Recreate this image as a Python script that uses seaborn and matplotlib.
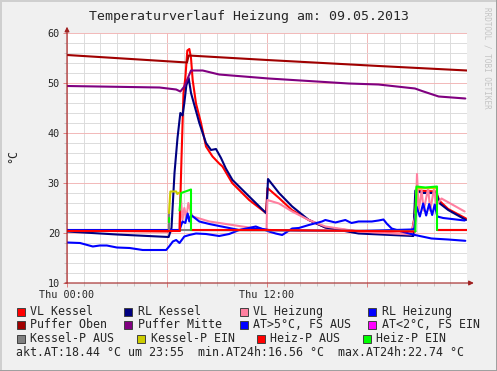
import matplotlib
matplotlib.use('Agg')
import matplotlib.pyplot as plt
from matplotlib.patches import Rectangle
from matplotlib.lines import Line2D
import pandas as pd
import seaborn as sns

# Zeit in Stunden ab Thu 00:00, Werte in °C
vl_kessel_t = [0, 3, 6.1, 6.75, 6.87, 6.99, 7.1, 7.22, 7.34, 7.44, 7.54, 7.74, 8.04, 8.34, 8.73,
               9.13, 9.33, 9.91, 10.93, 11.94, 12.03, 12.72, 13.49, 14.51, 15.5, 17.49, 20.66,
               20.84, 20.96, 22.15, 22.33, 22.87, 23.94]
vl_kessel_v = [20.5, 20.4, 20.3, 20.6, 35, 48, 51, 56.5, 56.8, 55, 50.6, 45.9, 42, 37.3, 35.3,
               33.9, 33.3, 30, 26.6, 24, 29, 27, 24.6, 22.6, 21.1, 20.3, 19.6,
               23, 28.5, 28.3, 26.5, 24.8, 22.9]

rl_kessel_t = [0, 3, 6.1, 6.27, 6.45, 6.63, 6.8, 6.93, 7.04, 7.16, 7.3, 7.44, 7.64, 7.94, 8.34,
               8.64, 8.94, 9.24, 9.53, 9.93, 10.93, 11.97, 12.06, 12.72, 13.51, 14.51, 15.5,
               17.49, 19.46, 20.78, 20.9, 21.37, 22.15, 22.37, 22.87, 23.94]
rl_kessel_v = [20.3, 19.7, 19.2, 21, 32, 39, 44, 43.5, 46, 49.5, 51, 48, 45.6, 42, 38,
               36.6, 36.8, 35, 32.9, 30.6, 27.3, 23.9, 30.8, 28, 25.3, 22.6, 21.1,
               19.9, 19.6, 19.4, 28.5, 28, 28, 25.9, 24.6, 22.6]

vl_heizung_t = [0, 6.75, 6.84, 6.93, 7.04, 7.16, 7.28, 7.44, 7.54, 8.54, 9.53, 10.52, 11.72,
                11.97, 12.02, 12.72, 13.51, 14.51, 15.5, 17.49, 20.66, 20.93, 21.0, 21.1, 21.28,
                21.4, 21.67, 21.79, 22.03, 22.15, 22.47, 23.86]
vl_heizung_v = [20.5, 20.5, 26.6, 22.6, 25, 23, 26, 24, 23.3, 22.3, 21.8, 21.3, 20.7,
                20.6, 26.6, 25.9, 24.3, 22.6, 21.3, 20.3, 19.7, 24, 31.8, 24.5, 28.5,
                24.5, 29, 24.5, 29, 25.5, 26.9, 24.3]

rl_heizung_t = [0, 6.15, 6.75, 6.93, 7.1, 7.24, 7.34, 7.44, 7.94, 8.54, 9.13, 10.33, 11.52,
                12.12, 13.91, 17.49, 20.66, 20.84, 20.97, 21.17, 21.37, 21.55, 21.73, 21.91,
                22.06, 22.22, 22.57, 23.86]
rl_heizung_v = [20.6, 20.6, 20.6, 22.3, 22.0, 23.9, 22.3, 23.6, 22.3, 21.8, 21.4, 20.6, 20.9,
                20.6, 20.5, 20.4, 20.7, 20.8, 25.3, 23.3, 25.9, 23.5, 25.8, 23.6,
                25.7, 23.3, 23.0, 22.5]

puffer_oben_t = [0, 7.2, 7.3, 12, 18.7, 24]
puffer_oben_v = [55.6, 54.1, 55.5, 54.6, 53.4, 52.5]

puffer_mitte_t = [0, 5.55, 6.55, 6.8, 7.04, 7.44, 8.14, 9.13, 12.1, 16.9, 18.69, 20.88, 21.3,
                  22.3, 23.9]
puffer_mitte_v = [49.4, 49.1, 48.7, 48.3, 49.3, 52.5, 52.5, 51.7, 50.9, 49.9, 49.7, 48.9, 48.4,
                  47.3, 46.9]

# Aussentemperatur
at_t = [0, 0.78, 1.55, 1.97, 2.39, 2.99, 3.76, 4.54, 5.25, 5.95, 6.15, 6.35, 6.55, 6.75, 7.04,
        7.34, 7.74, 8.34, 9.13, 9.73, 10.33, 11.33, 11.64, 12.12, 12.52, 12.91, 13.51, 13.91,
        14.51, 15.3, 15.5, 16.1, 16.7, 17.07, 17.49, 18.29, 18.69, 18.99, 19.18, 19.48, 20.18,
        20.88, 21.87, 22.87, 23.9]
at_v = [18.1, 18.0, 17.3, 17.5, 17.5, 17.1, 17.0, 16.6, 16.6, 16.6, 17.4, 18.3, 18.6, 18.0, 19.3,
        19.6, 19.9, 19.8, 19.4, 19.8, 20.6, 21.3, 20.9, 20.3, 19.9, 19.6, 20.9, 21.0,
        21.6, 22.3, 22.6, 22.1, 22.6, 22.0, 22.3, 22.3, 22.5, 22.7, 21.9, 20.9, 20.2,
        19.6, 18.9, 18.7, 18.44]

# Pumpenstatus (Segmente)
kessel_p_aus_t = [[0, 6.12, 6.12], [6.75, 20.9], [22.2, 24]]
kessel_p_aus_v = [[20.4, 20.4, 24.0], [20.6, 20.4], [20.6, 20.6]]
kessel_p_ein_t = [[6.12, 6.2, 6.55, 6.62, 6.75], [20.9, 20.97, 22.2]]
kessel_p_ein_v = [[24.0, 28.3, 28.3, 27.8, 28.1], [24.0, 29.0, 29.0]]
heiz_p_aus_t = [[0, 6.75, 6.75], [7.44, 12, 20.9], [22.2, 24]]
heiz_p_aus_v = [[20.4, 20.4, 24.5], [20.6, 20.6, 20.3], [20.6, 20.6]]
heiz_p_ein_t = [[6.12, 6.13], [6.75, 6.85, 7.44, 7.44], [20.9, 20.97, 21.5, 22.2, 22.2]]
heiz_p_ein_v = [[22.2, 23.0], [24.5, 28.0, 28.7, 20.6], [20.3, 29.3, 29.1, 29.3, 20.6]]

legend_rows = [
    [('VL Kessel', '#ff0000', 16.7), ('RL Kessel', '#000080', 124), ('VL Heizung', '#ff80a0', 240), ('RL Heizung', '#0000ff', 368.3)],
    [('Puffer Oben', '#a00000', 16.7), ('Puffer Mitte', '#800080', 124), ('AT>5°C, FS AUS', '#0000ff', 240), ('AT<2°C, FS EIN', '#ff00ff', 368.3)],
    [('Kessel-P AUS', '#808080', 16.7), ('Kessel-P EIN', '#cccc00', 137.3), ('Heiz-P AUS', '#ff0000', 256.7), ('Heiz-P EIN', '#00ff00', 362.7)],
]
info_text = 'akt.AT:18.44 °C um 23:55  min.AT24h:16.56 °C  max.AT24h:22.74 °C'

W, H = 497, 371
sns.set_style('white')
plt.rcParams['font.family'] = ['DejaVu Sans Mono']

fig = plt.figure(figsize=(W / 100, H / 100), dpi=100, facecolor='#f0f0f0')
ax = fig.add_axes([67 / W, (H - 283) / H, 400 / W, 250 / H])
ax.set_facecolor('white')


def plot_series(t, v, color):
    if not isinstance(t[0], list):
        t, v = [t], [v]
    rows = []
    for i, (ts, vs) in enumerate(zip(t, v)):
        rows += [(a, b, i) for a, b in zip(ts, vs)]
    df = pd.DataFrame(rows, columns=['t', 'v', 'seg'])
    sns.lineplot(data=df, x='t', y='v', units='seg', estimator=None, sort=False,
                 color=color, linewidth=1.5, ax=ax, legend=False)


plot_series(vl_kessel_t, vl_kessel_v, '#ff0000')
plot_series(rl_kessel_t, rl_kessel_v, '#000080')
plot_series(vl_heizung_t, vl_heizung_v, '#ff80a0')
plot_series(rl_heizung_t, rl_heizung_v, '#0000ff')
plot_series(puffer_oben_t, puffer_oben_v, '#a00000')
plot_series(puffer_mitte_t, puffer_mitte_v, '#800080')
plot_series(at_t, at_v, '#0000ff')
plot_series(kessel_p_aus_t, kessel_p_aus_v, '#808080')
plot_series(kessel_p_ein_t, kessel_p_ein_v, '#cccc00')
plot_series(heiz_p_aus_t, heiz_p_aus_v, '#ff0000')
plot_series(heiz_p_ein_t, heiz_p_ein_v, '#00ff00')

ax.set_xlim(0, 24)
ax.set_ylim(10, 60)
ax.set_xlabel('')
ax.set_ylabel('')
ax.set_xticks([0, 6, 12, 18])
ax.set_xticklabels(['Thu 00:00', '', 'Thu 12:00', ''])
ax.set_xticks(range(0, 24), minor=True)
ax.set_yticks(range(10, 61, 10))
ax.set_yticks(range(10, 61, 2), minor=True)
ax.grid(which='minor', color='#dcdcdc', linewidth=0.7)
ax.grid(which='major', color='#f2b8b8', linewidth=0.7)
ax.set_axisbelow(True)
ax.tick_params(which='major', length=3, width=0.7, color='#e08080', labelsize=7.3, pad=2)
ax.tick_params(which='minor', length=2, width=0.7, color='#c8c8c8')
ax.tick_params(axis='both', which='both', bottom=True, left=True)
for s in ax.spines.values():
    s.set_visible(False)

# Achsen mit Pfeilen
arrow = dict(arrowstyle='-|>', color='#a02020', lw=0.8, mutation_scale=7, shrinkA=0, shrinkB=0)
ax.annotate('', xy=(0, 1.025), xytext=(0, 0), xycoords='axes fraction', arrowprops=arrow)
ax.annotate('', xy=(1.017, 0), xytext=(-0.005, 0), xycoords='axes fraction', arrowprops=arrow)

fig.text(249 / W, 1 - 16.5 / H, 'Temperaturverlauf Heizung am: 09.05.2013',
         ha='center', va='center', fontsize=9.5)
fig.text(12.5 / W, 1 - 156 / H, '°C', rotation=90, ha='center', va='center', fontsize=8.4)
fig.text(487 / W, 1 - 7 / H, 'RRDTOOL / TOBI OETIKER', rotation=270, ha='center', va='top',
         fontsize=5.5, color='#c4c4c4')

# Legende
row_y = [311.5, 325, 338.5]
for row, yc in zip(legend_rows, row_y):
    for label, color, xb in row:
        fig.patches.append(Rectangle((xb / W, 1 - (yc + 4) / H), 8 / W, 8 / H,
                                     transform=fig.transFigure, facecolor=color,
                                     edgecolor='#404040', linewidth=0.7))
        fig.text((xb + 13.5) / W, 1 - yc / H, label, ha='left', va='center', fontsize=8.4)
fig.text(16.5 / W, 1 - 352.5 / H, info_text, ha='left', va='center', fontsize=8.4)

# Rahmen
fig.add_artist(Line2D([0, 1], [1 - 0.5 / H, 1 - 0.5 / H], transform=fig.transFigure, color='#cfcfcf', lw=1.4))
fig.add_artist(Line2D([0.5 / W, 0.5 / W], [0, 1], transform=fig.transFigure, color='#cfcfcf', lw=1.4))
fig.add_artist(Line2D([0, 1], [0.5 / H, 0.5 / H], transform=fig.transFigure, color='#9e9e9e', lw=1.4))
fig.add_artist(Line2D([1 - 0.5 / W, 1 - 0.5 / W], [0, 1], transform=fig.transFigure, color='#9e9e9e', lw=1.4))

fig.savefig('out.png', dpi=100, facecolor=fig.get_facecolor())
